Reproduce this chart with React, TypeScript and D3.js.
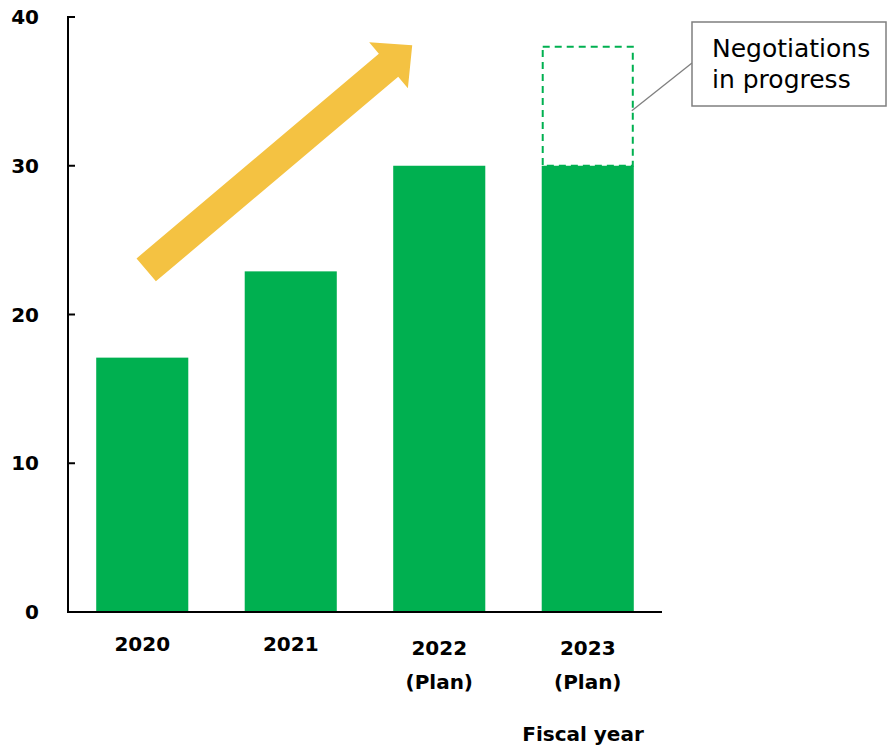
import React from "react";
import * as d3 from "d3";

const categories = ["2020", "2021", "2022", "2023"];
const subLabels = ["", "", "(Plan)", "(Plan)"];
const values = [17.1, 22.9, 30, 30];
const negotiationTop = 38; // upper end of dashed "in negotiation" box for 2023
const yTicks = [0, 10, 20, 30, 40];
const calloutLines = ["Negotiations", "in progress"];
const xTitle = "Fiscal year";

const W = 887;
const H = 747;
const FONT = "'DejaVu Sans', Verdana, sans-serif";
const GREEN = "#00B050";
const GOLD = "#F4C242";

export default function App() {
  const left = 68, right = 662, top = 17, bottom = 612;
  const x = d3.scaleBand<string>().domain(categories).range([left, right]).paddingInner(0.38).paddingOuter(0.19);
  const y = d3.scaleLinear().domain([0, 40]).range([bottom, top]);

  // Arrow geometry (decorative trend arrow), anchored to scales
  const tail: [number, number] = [x("2020")! + 50, y(23)];
  const tip: [number, number] = [x("2022")! + 19, y(38.1)];
  const dx = tip[0] - tail[0], dy = tip[1] - tail[1];
  const len = Math.hypot(dx, dy);
  const ux = dx / len, uy = dy / len;
  const nx = -uy, ny = ux;
  const shaftHalf = 15, headHalf = 30, headLen = 31;
  const base: [number, number] = [tip[0] - ux * headLen, tip[1] - uy * headLen];
  const pts: [number, number][] = [
    [tail[0] + nx * shaftHalf, tail[1] + ny * shaftHalf],
    [base[0] + nx * shaftHalf, base[1] + ny * shaftHalf],
    [base[0] + nx * headHalf, base[1] + ny * headHalf],
    tip,
    [base[0] - nx * headHalf, base[1] - ny * headHalf],
    [base[0] - nx * shaftHalf, base[1] - ny * shaftHalf],
    [tail[0] - nx * shaftHalf, tail[1] - ny * shaftHalf],
  ];
  const arrowPath = d3.line()(pts)! + "Z";

  const last = categories[categories.length - 1];
  const lx = x(last)!;
  const bw = x.bandwidth();

  const boxX = 692, boxY = 22, boxW = 194, boxH = 84;

  return (
    <svg width={W} height={H} style={{ position: "absolute", left: 0, top: 0, background: "#fff" }} fontFamily={FONT}>
      {/* bars */}
      {categories.map((c, i) => (
        <rect key={c} x={x(c)} y={y(values[i])} width={bw} height={y(0) - y(values[i])} fill={GREEN} />
      ))}
      {/* dashed negotiation box */}
      <rect x={lx + 1} y={y(negotiationTop)} width={bw - 2} height={y(values[3]) - y(negotiationTop)}
        fill="none" stroke={GREEN} strokeWidth={2} strokeDasharray="7,5" />
      {/* axes */}
      <line x1={left} x2={left} y1={top - 1} y2={bottom + 1} stroke="#000" strokeWidth={2} />
      <line x1={left - 1} x2={right} y1={bottom} y2={bottom} stroke="#000" strokeWidth={2} />
      {yTicks.map((t) => (
        <g key={t}>
          <line x1={left} x2={left + 7} y1={y(t)} y2={y(t)} stroke="#000" strokeWidth={2} />
          <text x={39} y={y(t)} dy="0.36em" textAnchor="end" fontSize={20} fontWeight="bold" fill="#000">{t}</text>
        </g>
      ))}
      {categories.map((c, i) => {
        const cx = x(c)! + bw / 2;
        return subLabels[i] ? (
          <g key={c}>
            <text x={cx} y={655} textAnchor="middle" fontSize={20} fontWeight="bold">{c}</text>
            <text x={cx} y={689} textAnchor="middle" fontSize={20} fontWeight="bold">{subLabels[i]}</text>
          </g>
        ) : (
          <text key={c} x={cx} y={651} textAnchor="middle" fontSize={20} fontWeight="bold">{c}</text>
        );
      })}
      <text x={583} y={741} textAnchor="middle" fontSize={20} fontWeight="bold">{xTitle}</text>
      {/* trend arrow */}
      <path d={arrowPath} fill={GOLD} />
      {/* callout */}
      <line x1={lx + bw - 2} y1={y(33.7)} x2={boxX} y2={boxY + 41} stroke="#7F7F7F" strokeWidth={1.3} />
      <rect x={boxX} y={boxY} width={boxW} height={boxH} fill="#fff" stroke="#7F7F7F" strokeWidth={1.5} />
      {calloutLines.map((l, i) => (
        <text key={i} x={712} y={57 + i * 31} fontSize={25} fill="#000">{l}</text>
      ))}
    </svg>
  );
}
